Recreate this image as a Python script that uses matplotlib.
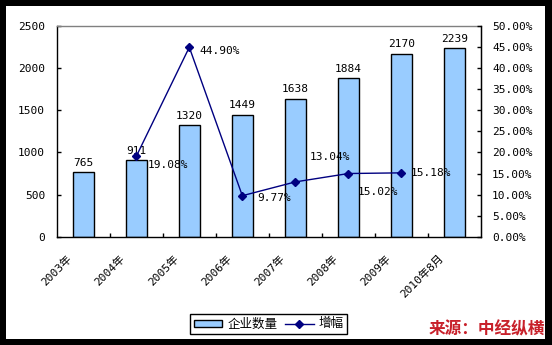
import matplotlib
matplotlib.use("Agg")
import matplotlib.pyplot as plt
from matplotlib.patches import Rectangle
from matplotlib.transforms import ScaledTranslation
import numpy as np

plt.rcParams['font.family'] = ['DejaVu Sans Mono', 'Noto Sans CJK SC']

categories = ["2003年", "2004年", "2005年", "2006年", "2007年", "2008年", "2009年", "2010年8月"]
counts = [765, 911, 1320, 1449, 1638, 1884, 2170, 2239]
growth_idx = [1, 2, 3, 4, 5, 6]
growth = [19.08, 44.90, 9.77, 13.04, 15.02, 15.18]
growth_labels = ["19.08%", "44.90%", "9.77%", "13.04%", "15.02%", "15.18%"]
label_offsets = [(8.6, -6.5), (7, -2.5), (11, -1.5), (10, 18), (7, -13), (7, 0)]
left_ticks = [0, 500, 1000, 1500, 2000, 2500]
right_ticks = [0, 5, 10, 15, 20, 25, 30, 35, 40, 45, 50]

W, H = 552, 345
fig = plt.figure(figsize=(W / 100, H / 100), dpi=100)
fig.patch.set_facecolor('black')
fig.patches.append(Rectangle((6 / W, 6 / H), (545 - 6) / W, (339 - 6) / H,
                             transform=fig.transFigure, facecolor='white',
                             edgecolor='none', zorder=-10))

ax = fig.add_axes([56.7 / W, (H - 237) / H, (481 - 56.7) / W, (237 - 25.7) / H])
x = np.arange(len(categories))
bars = ax.bar(x, counts, width=0.4, color='#99CCFF', edgecolor='black', linewidth=1,
              label='企业数量', zorder=2)
for xi, v in zip(x, counts):
    ax.annotate(str(v), (xi, v), xytext=(0, 3), textcoords='offset points',
                ha='center', va='bottom', fontsize=8, color='black')

ax.set_xlim(-0.5, len(categories) - 0.5)
ax.set_ylim(0, 2500)
ax.set_yticks(left_ticks)
ax.set_yticklabels([str(t) for t in left_ticks])
ax.tick_params(axis='y', direction='in', length=3, width=1, pad=8.4, labelsize=8)
ax.set_xticks(x)
ax.set_xticklabels(categories, rotation=45, ha='right', va='top', fontsize=8)
ax.set_xticks(np.arange(0.5, len(categories) - 1, 1.0), minor=True)
ax.tick_params(axis='x', which='major', length=0, pad=11.5)
ax.tick_params(axis='x', which='minor', direction='in', length=3, width=1)
off = ScaledTranslation(-9 / 100, 0, fig.dpi_scale_trans)
for lbl in ax.get_xticklabels():
    lbl.set_transform(lbl.get_transform() + off)
for s in ['left', 'bottom', 'right']:
    ax.spines[s].set_color('black')
    ax.spines[s].set_linewidth(1)
ax.spines['top'].set_color('#808080')
ax.spines['top'].set_linewidth(1)

ax2 = ax.twinx()
line, = ax2.plot(growth_idx, growth, color='#000080', linewidth=1, marker='D',
                 markersize=4, label='增幅', zorder=3)
for xi, v, t, o in zip(growth_idx, growth, growth_labels, label_offsets):
    ax2.annotate(t, (xi, v), xytext=o, textcoords='offset points',
                 ha='left', va='center', fontsize=8, color='black')
ax2.set_ylim(0, 50)
ax2.set_yticks(right_ticks)
ax2.set_yticklabels(["%.2f%%" % t for t in right_ticks])
ax2.tick_params(axis='y', direction='in', length=3, width=1, pad=8, labelsize=8)
ax2.spines['right'].set_color('black')
ax2.spines['top'].set_visible(False)
ax2.spines['left'].set_visible(False)
ax2.spines['bottom'].set_visible(False)

leg = fig.legend([bars, line], ['企业数量', '增幅'], loc='center',
                 bbox_to_anchor=(268.5 / W, (H - 324) / H), ncol=2,
                 frameon=True, fancybox=False, edgecolor='black', framealpha=1,
                 handlelength=2.3, handleheight=0.5, handletextpad=0.4,
                 columnspacing=0.6, borderpad=0.3, borderaxespad=0,
                 prop={'family': ['Noto Sans CJK SC'], 'size': 9})
leg.get_frame().set_linewidth(1)

fig.text(545 / W, (H - 338) / H, "来源：中经纵横", ha='right', va='bottom',
         fontsize=12, fontweight='bold', color='#C8202A',
         family=['Noto Sans CJK SC'])

fig.savefig("out.png", dpi=100, facecolor=fig.get_facecolor())
